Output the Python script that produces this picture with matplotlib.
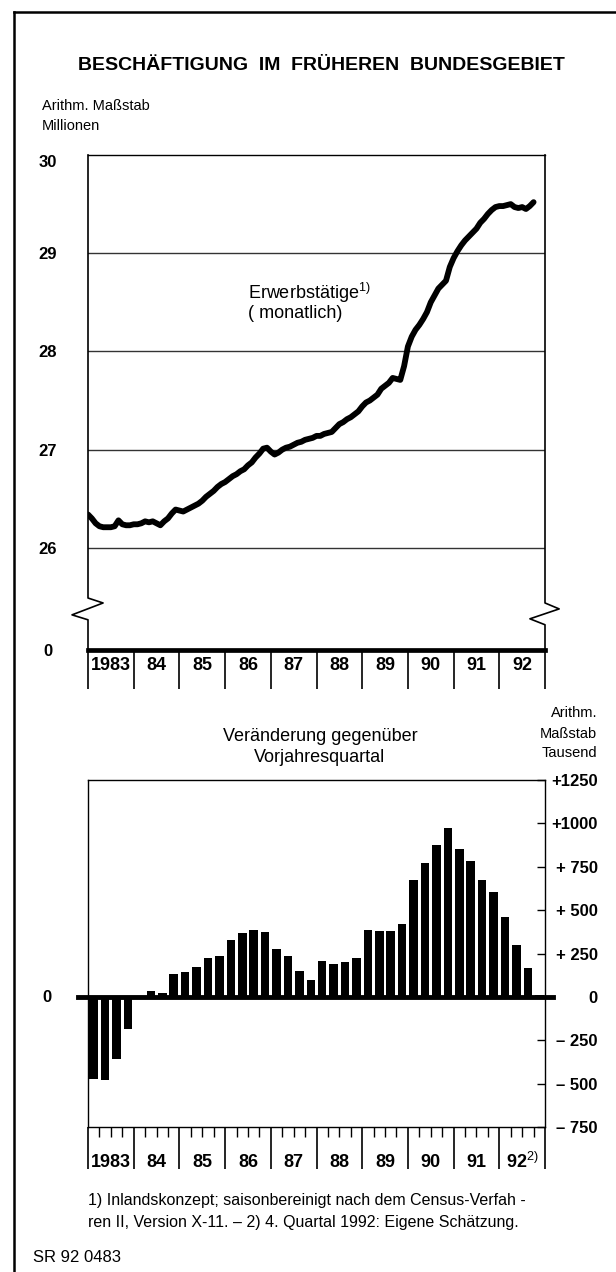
import matplotlib
matplotlib.use("Agg")
import matplotlib.pyplot as plt
import matplotlib.transforms as mtransforms
from matplotlib.lines import Line2D
import numpy as np

plt.rcParams["font.family"] = ["Liberation Sans", "DejaVu Sans"]
plt.rcParams["mathtext.fontset"] = "custom"
plt.rcParams["mathtext.rm"] = "Liberation Sans"
plt.rcParams["mathtext.default"] = "rm"

# --- data -------------------------------------------------------------
year_labels = ["1983", "84", "85", "86", "87", "88", "89", "90", "91", "92"]

# Erwerbstätige, Mio., monatlich Jan 1983 - Okt 1992
employed_monthly = [
    26.34, 26.30, 26.25, 26.22, 26.21, 26.21, 26.21, 26.22, 26.28, 26.24, 26.23, 26.23,
    26.24, 26.24, 26.25, 26.27, 26.26, 26.27, 26.25, 26.23, 26.27, 26.30, 26.35, 26.39,
    26.38, 26.37, 26.39, 26.41, 26.43, 26.45, 26.48, 26.52, 26.55, 26.58, 26.62, 26.65,
    26.67, 26.70, 26.73, 26.75, 26.78, 26.80, 26.84, 26.87, 26.92, 26.96, 27.01, 27.02,
    26.98, 26.95, 26.97, 27.00, 27.02, 27.03, 27.05, 27.07, 27.08, 27.10, 27.11, 27.12,
    27.14, 27.14, 27.16, 27.17, 27.18, 27.22, 27.26, 27.28, 27.31, 27.33, 27.36, 27.39,
    27.44, 27.48, 27.50, 27.53, 27.56, 27.62, 27.65, 27.68, 27.73, 27.72, 27.71, 27.85,
    28.05, 28.15, 28.22, 28.27, 28.33, 28.40, 28.50, 28.57, 28.64, 28.68, 28.72, 28.86,
    28.95, 29.02, 29.08, 29.13, 29.17, 29.21, 29.25, 29.31, 29.35, 29.40, 29.44, 29.47,
    29.48, 29.48, 29.49, 29.50, 29.47, 29.46, 29.47, 29.45, 29.48, 29.52,
]

# Veränderung gegenüber Vorjahresquartal, Tausend, 1983 Q1 - 1992 Q4
change_quarterly = [
    -471, -481, -356, -188,
    -5, 35, 25, 130,
    142, 172, 224, 234,
    330, 370, 387, 374,
    278, 234, 149, 96,
    207, 188, 201, 222,
    383, 377, 377, 421,
    676, 772, 874, 973,
    851, 784, 674, 602,
    460, 297, 167, 10,
]

top_ticks = [26, 27, 28, 29, 30]
top_tick_labels = ["0", "26", "27", "28", "29", "30"]
right_ticks = [-750, -500, -250, 0, 250, 500, 750, 1000, 1250]
right_tick_labels = ["\u2013 750", "\u2013 500", "\u2013 250", "0",
                     "+ 250", "+ 500", "+ 750", "+1000", "+1250"]

BREAK_BASE = 24.96  # bottom of the broken axis, stands for 0

W, H = 616, 1272


def box(left, top, right, bottom):
    return [left / W, 1 - bottom / H, (right - left) / W, (bottom - top) / H]


fig = plt.figure(figsize=(W / 100, H / 100), dpi=100)

# --- upper panel: monthly line ------------------------------------------
ax1 = fig.add_axes(box(88, 155, 545, 650))
x_m = np.arange(len(employed_monthly))
ax1.plot(x_m, employed_monthly, color="black", lw=4.2,
         solid_capstyle="round", solid_joinstyle="round", zorder=3)
ax1.set_xlim(0, 120)
ax1.set_ylim(BREAK_BASE, 30)
for v in top_ticks[:-1]:
    ax1.axhline(v, color="#333333", lw=1.0, zorder=1)
ax1.axhline(BREAK_BASE, color="black", lw=3.4, clip_on=False, zorder=4)

for side in ["left", "right", "bottom"]:
    ax1.spines[side].set_visible(False)
ax1.spines["top"].set_linewidth(1.0)

# broken spines with zigzag
ax1.plot([0, 0, 0.033, -0.035, 0, 0], [1, 0.105, 0.095, 0.071, 0.061, 0],
         transform=ax1.transAxes, color="black", lw=1.2, clip_on=False)
ax1.plot([1, 1, 1.031, 0.967, 1, 1], [1, 0.095, 0.083, 0.063, 0.051, 0],
         transform=ax1.transAxes, color="black", lw=1.2, clip_on=False)

ax1.set_yticks([BREAK_BASE] + top_ticks, top_tick_labels,
               fontsize=12, fontweight="bold")
ax1.tick_params(axis="y", length=0, pad=28.8)
for lab in ax1.get_yticklabels():
    lab.set_horizontalalignment("center")
ax1.get_yticklabels()[-1].set_verticalalignment("top")

ax1.set_xticks(np.arange(0, 121, 12), [])
ax1.tick_params(axis="x", direction="out", length=28, width=1.2)
tr1 = mtransforms.blended_transform_factory(ax1.transData, ax1.transAxes)
for i, lab in enumerate(year_labels):
    ax1.text(12 * i + 6, -0.032, lab, transform=tr1, ha="center", va="center",
             fontsize=13, fontweight="bold")

fig.text(248 / W, 1 - 293 / H, "Erwerbst\u00e4tige$^{1)}$", ha="left", va="center",
         fontsize=13)
fig.text(248 / W, 1 - 314 / H, "( monatlich)", ha="left", va="center", fontsize=13)

# --- lower panel: quarterly bars ----------------------------------------
ax2 = fig.add_axes(box(88, 780, 545, 1127))
x_q = np.arange(len(change_quarterly)) + 0.5
ax2.bar(x_q, change_quarterly, width=0.75, color="black", zorder=3)
ax2.set_xlim(0, 40)
ax2.set_ylim(-750, 1250)
for s in ax2.spines.values():
    s.set_linewidth(1.0)

tr2 = mtransforms.blended_transform_factory(ax2.transAxes, ax2.transData)
ax2.plot([-0.022, 1.0175], [0, 0], transform=tr2, color="black", lw=3.5,
         clip_on=False, zorder=4)

ax2.yaxis.tick_right()
ax2.set_yticks(right_ticks, right_tick_labels, fontsize=12, fontweight="bold")
ax2.tick_params(axis="y", direction="in", length=6, width=1.0, pad=38)
for lab in ax2.get_yticklabels():
    lab.set_horizontalalignment("right")

ax2.set_xticks(np.arange(0, 41, 4), [])
ax2.set_xticks([q for q in range(41) if q % 4], minor=True)
ax2.tick_params(axis="x", which="major", direction="out", length=30, width=1.2)
ax2.tick_params(axis="x", which="minor", direction="out", length=7, width=1.0)
tr3 = mtransforms.blended_transform_factory(ax2.transData, ax2.transAxes)
for i, lab in enumerate(year_labels):
    text = lab + "$^{2)}$" if i == len(year_labels) - 1 else lab
    ax2.text(4 * i + 2, -0.101, text, transform=tr3, ha="center", va="center",
             fontsize=13, fontweight="bold")

fig.text(47 / W, 1 - 997 / H, "0", ha="center", va="center",
         fontsize=12, fontweight="bold")

# --- texts ----------------------------------------------------------------
fig.text(321 / W, 1 - 66 / H, "BESCH\u00c4FTIGUNG  IM  FR\u00dcHEREN  BUNDESGEBIET",
         ha="center", va="center", fontsize=14, fontweight="bold")
fig.text(42 / W, 1 - 106 / H, "Arithm. Ma\u00dfstab", ha="left", va="center", fontsize=10.5)
fig.text(42 / W, 1 - 126 / H, "Millionen", ha="left", va="center", fontsize=10.5)

fig.text(320 / W, 1 - 737 / H, "Ver\u00e4nderung gegen\u00fcber", ha="center", va="center",
         fontsize=13)
fig.text(320 / W, 1 - 758 / H, "Vorjahresquartal", ha="center", va="center", fontsize=13)
fig.text(597 / W, 1 - 713 / H, "Arithm.", ha="right", va="center", fontsize=10.5)
fig.text(597 / W, 1 - 734 / H, "Ma\u00dfstab", ha="right", va="center", fontsize=10.5)
fig.text(597 / W, 1 - 753 / H, "Tausend", ha="right", va="center", fontsize=10.5)

fig.text(88 / W, 1 - 1200 / H,
         "1) Inlandskonzept; saisonbereinigt nach dem Census-Verfah -",
         ha="left", va="center", fontsize=11.5)
fig.text(88 / W, 1 - 1223 / H,
         "ren II, Version X-11. \u2013 2) 4. Quartal 1992: Eigene Sch\u00e4tzung.",
         ha="left", va="center", fontsize=11.5)
fig.text(33 / W, 1 - 1258 / H, "SR 92 0483", ha="left", va="center", fontsize=12)

# page frame
fig.add_artist(Line2D([14 / W, 14 / W], [0, 1 - 12 / H], transform=fig.transFigure,
                      color="black", lw=1.8))
fig.add_artist(Line2D([14 / W, 1], [1 - 12 / H, 1 - 12 / H], transform=fig.transFigure,
                      color="black", lw=1.8))

fig.savefig("out.png", dpi=100)
plt.close(fig)
